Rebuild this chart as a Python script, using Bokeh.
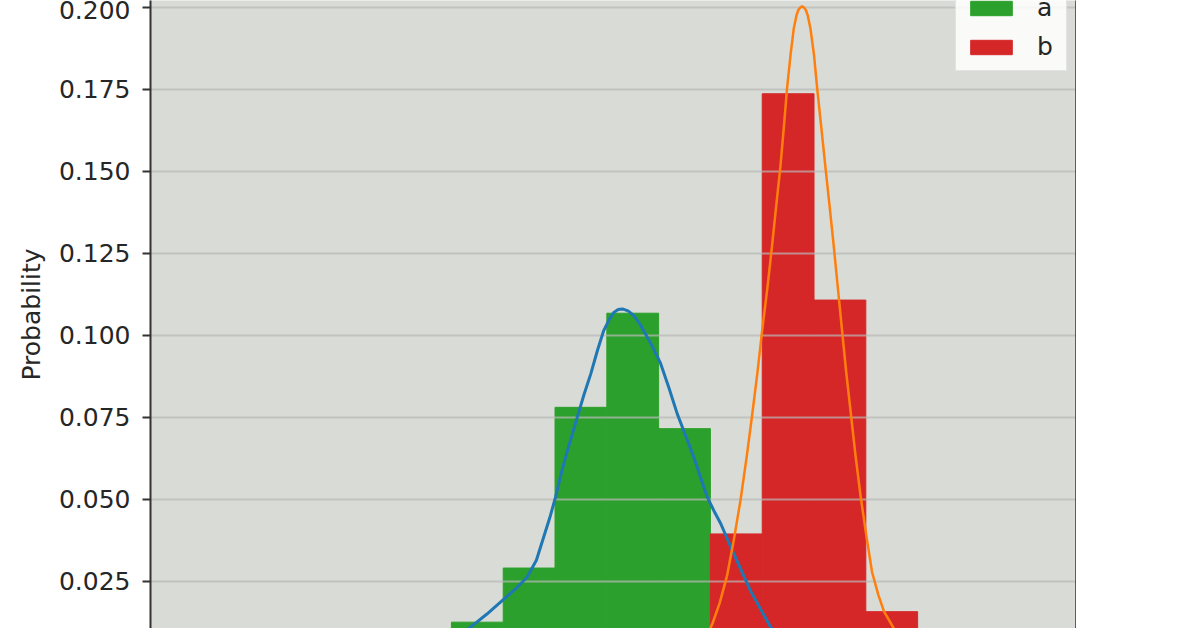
from bokeh.plotting import figure
from bokeh.models import LinearAxis, FixedTicker, NumeralTickFormatter, Range1d
from bokeh.embed import file_html
from bokeh.resources import INLINE

# ---- data ----
bin_edges = [0, 1, 2, 3, 4, 5, 6, 7, 8, 9]
a_bins = [0, 1, 2, 3, 4]
a_prob = [0.0126, 0.0291, 0.0781, 0.1068, 0.0716]
b_bins = [5, 6, 7, 8]
b_prob = [0.0395, 0.1737, 0.1108, 0.0158]

a_curve_x = [-0.40, 0.37, 0.68, 0.98, 1.22, 1.46, 1.64, 1.78, 1.90, 2.01, 2.12, 2.24, 2.43,
             2.56, 2.69, 2.82, 2.94, 3.05, 3.14, 3.22, 3.30, 3.41, 3.52, 3.65, 3.78, 3.91,
             4.04, 4.20, 4.36, 4.52, 4.68, 4.81, 4.94, 5.07, 5.20, 5.45, 5.77, 6.16, 6.70]
a_curve_y = [0.003, 0.0111, 0.0150, 0.0192, 0.0225, 0.0263, 0.0315, 0.0385, 0.0445, 0.0507,
             0.0580, 0.0649, 0.0751, 0.0820, 0.0883, 0.0955, 0.1015, 0.1050, 0.1071, 0.1079,
             0.1081, 0.1075, 0.1061, 0.1032, 0.0995, 0.0957, 0.0914, 0.0840, 0.0761, 0.0695,
             0.0629, 0.0567, 0.0507, 0.0465, 0.0426, 0.0335, 0.0223, 0.0111, 0.003]
b_curve_x = [4.80, 5.04, 5.18, 5.32, 5.45, 5.58, 5.70, 5.81, 5.91, 6.00, 6.10, 6.19, 6.27,
             6.35, 6.42, 6.48, 6.55, 6.61, 6.66, 6.70, 6.74, 6.77, 6.80, 6.84, 6.88, 6.93,
             7.00, 7.06, 7.14, 7.22, 7.30, 7.38, 7.46, 7.54, 7.62, 7.71, 7.80, 7.90, 8.01,
             8.12, 8.24, 8.35, 8.54, 8.80]
b_curve_y = [0.004, 0.0122, 0.0185, 0.0267, 0.0375, 0.0497, 0.0630, 0.0763, 0.0890, 0.1017,
             0.1145, 0.1274, 0.1395, 0.1513, 0.1640, 0.1755, 0.1860, 0.1937, 0.1975, 0.1993,
             0.2001, 0.2003, 0.2001, 0.1993, 0.1975, 0.1937, 0.1855, 0.1755, 0.1635, 0.1513,
             0.1395, 0.1274, 0.1145, 0.1017, 0.0890, 0.0763, 0.0635, 0.0509, 0.0390, 0.0279,
             0.0210, 0.0159, 0.0107, 0.004]

y_ticks = [0.025, 0.050, 0.075, 0.100, 0.125, 0.150, 0.175, 0.200]
series_names = ["a", "b"]
bar_colors = ["#2ca02c", "#d62728"]
line_colors = ["#1f77b4", "#ff7f0e"]

FONT = "DejaVu Sans"
x_lo, x_hi = -5.809, 12.067

p = figure(frame_width=926, frame_height=628,
           x_range=Range1d(x_lo, x_hi), y_range=Range1d(0.01067, 0.20213),
           output_backend="svg", toolbar_location=None,
           x_axis_location=None, y_axis_label="Probability",
           min_border_left=150, min_border_right=0, min_border_top=0, min_border_bottom=0)

p.background_fill_color = "#d9dcd6"
p.border_fill_color = "white"
p.outline_line_color = None
p.xgrid.visible = False
p.ygrid.visible = False

# bars
p.quad(left=[bin_edges[i] for i in a_bins], right=[bin_edges[i + 1] for i in a_bins],
       bottom=0, top=a_prob, fill_color=bar_colors[0], line_color=bar_colors[0],
       line_width=1, legend_label=series_names[0])
p.quad(left=[bin_edges[i] for i in b_bins], right=[bin_edges[i + 1] for i in b_bins],
       bottom=0, top=b_prob, fill_color=bar_colors[1], line_color=bar_colors[1],
       line_width=1, legend_label=series_names[1])

# horizontal grid lines drawn over the bars (as in the reference)
p.segment(x0=[x_lo] * len(y_ticks), x1=[x_hi] * len(y_ticks), y0=y_ticks, y1=y_ticks,
          line_color="#b8b8b8", line_alpha=0.7, line_width=2)

# density curves
p.line(a_curve_x, a_curve_y, line_color=line_colors[0], line_width=3, line_join="round")
p.line(b_curve_x, b_curve_y, line_color=line_colors[1], line_width=2.5, line_join="round")

# left axis
ax = p.yaxis[0]
ax.ticker = FixedTicker(ticks=y_ticks)
ax.formatter = NumeralTickFormatter(format="0.000")
ax.major_label_text_font = FONT
ax.major_label_text_font_size = "25px"
ax.major_label_text_color = "#262626"
ax.major_label_standoff = 12
ax.major_tick_out = 8
ax.major_tick_in = 0
ax.minor_tick_out = 0
ax.minor_tick_in = 0
ax.major_tick_line_color = "#333333"
ax.major_tick_line_width = 2
ax.axis_line_color = "#333333"
ax.axis_line_width = 2
ax.axis_label_text_font = FONT
ax.axis_label_text_font_size = "25px"
ax.axis_label_text_font_style = "normal"
ax.axis_label_text_color = "#262626"
ax.axis_label_standoff = 10

# right spine
rax = LinearAxis(ticker=FixedTicker(ticks=[]), major_label_text_font_size="0px",
                 major_tick_out=0, major_tick_in=0, minor_tick_out=0, minor_tick_in=0,
                 axis_line_color="#333333", axis_line_width=2.5)
p.add_layout(rax, "right")

# legend
lg = p.legend[0]
lg.location = (805, 557)
lg.label_text_font = FONT
lg.label_text_font_size = "25px"
lg.label_text_color = "#262626"
lg.glyph_width = 52
lg.glyph_height = 18
lg.label_standoff = 20
lg.padding = 9
lg.spacing = 10
lg.margin = 0
lg.background_fill_color = "white"
lg.background_fill_alpha = 0.85
lg.border_line_color = "#cccccc"
lg.border_line_width = 1

open("out.html", "w").write(file_html(p, INLINE))
